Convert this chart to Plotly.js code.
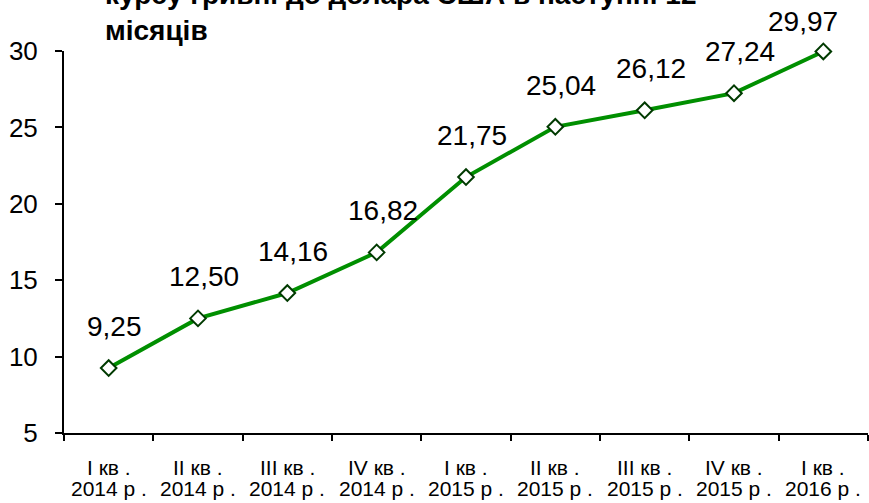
<!DOCTYPE html>
<html>
<head>
<meta charset="utf-8">
<script src="https://cdn.plot.ly/plotly-3.0.1.min.js"></script>
<style>html,body{margin:0;padding:0;background:#fff;}#chart{width:869px;height:503px;}</style>
</head>
<body>
<div id="chart"></div>
<script>
const quarters = ["I кв .","II кв .","III кв .","IV кв .","I кв .","II кв .","III кв .","IV кв .","I кв ."];
const years = ["2014 р .","2014 р .","2014 р .","2014 р .","2015 р .","2015 р .","2015 р .","2015 р .","2016 р ."];
const categories = quarters.map((q, i) => q + " " + years[i]);
const values = [9.25, 12.50, 14.16, 16.82, 21.75, 25.04, 26.12, 27.24, 29.97];
const yTicks = [5, 10, 15, 20, 25, 30];
const titleText = "курсу гривні до долара США в наступні 12<br>місяців";

const FONT = "Liberation Sans, Arial, sans-serif";
const Y_MIN = 5, Y_MAX = 30;

const trace = {
  x: categories,
  y: values,
  type: "scatter",
  mode: "lines+markers",
  line: {color: "#008f00", width: 4},
  marker: {symbol: "diamond", size: 12, color: "#ffffff", line: {color: "#003a00", width: 2}},
  hoverinfo: "skip",
  cliponaxis: false
};

const annotations = [];
// data labels
values.forEach((v, i) => {
  const atTop = v > Y_MAX - 0.5;
  annotations.push({
    x: categories[i], y: v, xref: "x", yref: "y",
    text: v.toFixed(2).replace(".", ","),
    showarrow: false, yanchor: "bottom",
    xshift: atTop ? -20 : 6, yshift: atTop ? 12 : 24,
    font: {family: FONT, size: 28, color: "#000"}
  });
});
// category labels (two lines, tight spacing)
categories.forEach((c, i) => {
  annotations.push({
    x: c, y: 0, xref: "x", yref: "paper",
    text: quarters[i], showarrow: false, yanchor: "top", yshift: -21,
    font: {family: FONT, size: 21, color: "#000"}
  });
  annotations.push({
    x: c, y: 0, xref: "x", yref: "paper",
    text: years[i], showarrow: false, yanchor: "top", yshift: -42,
    font: {family: FONT, size: 21, color: "#000"}
  });
});
// title (partly outside the picture, as in the reference)
annotations.push({
  x: (103 - 64) / 804, y: 1, xref: "paper", yref: "paper",
  xanchor: "left", yanchor: "bottom", align: "left",
  text: "<b>" + titleText + "</b>", showarrow: false, yshift: 3,
  font: {family: FONT, size: 28, color: "#000"}
});

const layout = {
  width: 869, height: 503,
  margin: {l: 64, r: 1, t: 51, b: 70},
  paper_bgcolor: "#fff", plot_bgcolor: "#fff",
  showlegend: false,
  xaxis: {
    type: "category",
    showgrid: false, zeroline: false,
    showline: true, linecolor: "#000", linewidth: 2,
    ticks: "outside", tickson: "boundaries", ticklen: 6, tickwidth: 2, tickcolor: "#000",
    showticklabels: false,
    range: [-0.5, categories.length - 0.5],
    fixedrange: true
  },
  yaxis: {
    range: [Y_MIN, Y_MAX],
    tickvals: yTicks,
    ticktext: yTicks.map(String),
    showgrid: false, zeroline: false,
    showline: true, linecolor: "#000", linewidth: 2,
    ticks: "outside", ticklen: 7, tickwidth: 2, tickcolor: "#000",
    ticklabelstandoff: 12,
    tickfont: {family: FONT, size: 26, color: "#000"},
    fixedrange: true
  },
  annotations: annotations
};

Plotly.newPlot("chart", [trace], layout, {displayModeBar: false, staticPlot: true});
</script>
</body>
</html>
